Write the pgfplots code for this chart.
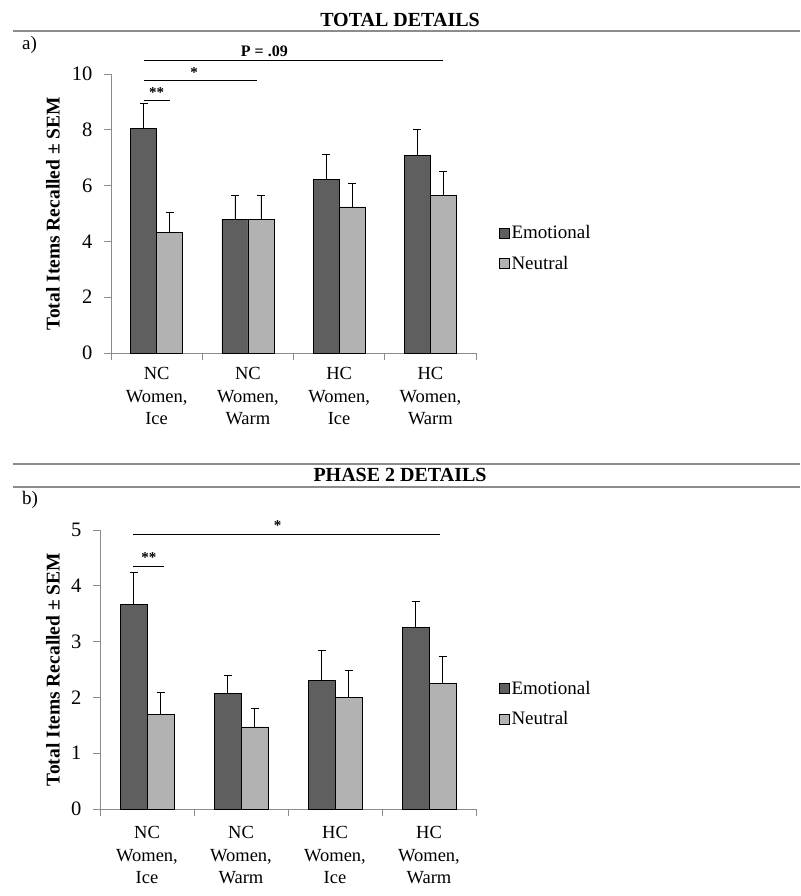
\documentclass[border=0pt]{standalone}
\usepackage{pgfplots}
\pgfplotsset{compat=1.18}
\usepackage{fontspec}
\setmainfont{Liberation Serif}
\definecolor{emo}{HTML}{5F5F5F}
\definecolor{neu}{HTML}{B2B2B2}
\definecolor{axgray}{HTML}{8C8C8C}

\pgfplotstableread{
x emo emoerr neu neuerr
0 8.05 0.89 4.33 0.72
1 4.80 0.86 4.80 0.84
2 6.22 0.89 5.24 0.84
3 7.08 0.95 5.66 0.84
}\tabA
\pgfplotstableread{
x emo emoerr neu neuerr
0 3.67 0.57 1.70 0.39
1 2.07 0.33 1.47 0.33
2 2.31 0.53 2.00 0.49
3 3.25 0.48 2.25 0.48
}\tabB

\pgfplotsset{mystyle/.style={
  scale only axis,
  ybar=0pt,
  clip=false,
  xmin=-0.5, xmax=3.5,
  axis lines*=left,
  axis line style={axgray, line width=0.8pt},
  xtick={0,1,2,3},
  xticklabels={{NC\\Women,\\Ice},{NC\\Women,\\Warm},{HC\\Women,\\Ice},{HC\\Women,\\Warm}},
  major x tick style={draw=none},
  minor xtick={-0.5,0.5,1.5,2.5,3.5},
  minor x tick style={axgray, line width=0.8pt},
  tick align=outside,
  minor tick length=7pt,
  major tick length=7pt,
  ytick style={axgray, line width=0.8pt},
  xticklabel style={align=center, font=\fontsize{18.5}{22.5}\selectfont, yshift=-4pt},
  yticklabel style={font=\fontsize{20.5}{24}\selectfont, xshift=-8pt},
  /pgf/number format/assume math mode=true,
  ylabel={Total Items Recalled ± SEM},
  ylabel style={font=\fontsize{19.5}{22}\selectfont\bfseries, anchor=center},
  legend style={draw=none, fill=none, font=\fontsize{19}{22}\selectfont, row sep=12pt,
    /tikz/every even column/.append style={column sep=5pt}},
  legend cell align=left,
  legend image code/.code={\draw[#1, draw=black, line width=0.3pt] (0pt,-5pt) rectangle (10pt,5pt);},
  error bars/y dir=plus,
  error bars/y explicit,
  error bars/error bar style={black, line width=0.6pt},
  error bars/error mark options={rotate=90, mark size=4pt, black, line width=0.6pt},
}}

\begin{document}
\begin{tikzpicture}
\path[use as bounding box] (0,0) rectangle (800pt,896pt);
% headers
\draw[axgray, line width=1.2pt] (13pt,865pt) -- (800pt,865pt);
\node[anchor=base, font=\fontsize{20}{24}\selectfont\bfseries] at (400pt,869pt) {TOTAL DETAILS};
\node[anchor=base west, font=\fontsize{19}{22}\selectfont, inner sep=0pt] at (22pt,846pt) {a)};
\draw[axgray, line width=1.2pt] (13pt,432pt) -- (800pt,432pt);
\node[anchor=base, font=\fontsize{20}{24}\selectfont\bfseries] at (400pt,414pt) {PHASE 2 DETAILS};
\draw[axgray, line width=1.2pt] (13pt,409pt) -- (800pt,409pt);
\node[anchor=base west, font=\fontsize{19}{22}\selectfont, inner sep=0pt] at (22pt,391pt) {b)};

% panel a
\begin{axis}[mystyle,
  at={(111pt,543pt)}, anchor=south west,
  width=365pt, height=279pt,
  ymin=0, ymax=10, ytick={0,2,4,6,8,10},
  bar width=26pt,
  ylabel style={at={(axis description cs:-0.159,0.5)}},
  legend style={at={(axis description cs:1,0.376)}, anchor=west, xshift=20pt},
]
\addplot[fill=emo, draw=black, line width=0.4pt] table[x=x, y=emo, y error=emoerr] {\tabA};
\addplot[fill=neu, draw=black, line width=0.4pt] table[x=x, y=neu, y error=neuerr] {\tabA};
\legend{Emotional, Neutral}
\draw[black, line width=0.6pt] (axis cs:-0.143,9.07) -- (axis cs:0.143,9.07);
\node[anchor=south, font=\fontsize{15}{17}\selectfont\bfseries, inner sep=1pt] at (axis cs:0.0,9.12) {**};
\draw[black, line width=0.6pt] (axis cs:-0.143,9.78) -- (axis cs:1.10,9.78);
\node[anchor=south, font=\fontsize{15}{17}\selectfont\bfseries, inner sep=1pt] at (axis cs:0.41,9.83) {*};
\draw[black, line width=0.6pt] (axis cs:-0.143,10.48) -- (axis cs:3.143,10.48);
\node[anchor=south, font=\fontsize{16}{18}\selectfont\bfseries, inner sep=2pt] at (axis cs:1.18,10.55) {P = .09};
\end{axis}

% panel b
\begin{axis}[mystyle,
  at={(100pt,87pt)}, anchor=south west,
  width=376pt, height=279pt,
  ymin=0, ymax=5, ytick={0,1,2,3,4,5},
  bar width=27pt,
  xticklabel style={yshift=-3pt},
  ylabel style={at={(axis description cs:-0.125,0.5)}},
  legend style={at={(axis description cs:1,0.378)}, anchor=west, xshift=20pt},
]
\addplot[fill=emo, draw=black, line width=0.4pt] table[x=x, y=emo, y error=emoerr] {\tabB};
\addplot[fill=neu, draw=black, line width=0.4pt] table[x=x, y=neu, y error=neuerr] {\tabB};
\legend{Emotional, Neutral}
\draw[black, line width=0.6pt] (axis cs:-0.149,4.35) -- (axis cs:0.18,4.35);
\node[anchor=south, font=\fontsize{15}{17}\selectfont\bfseries, inner sep=1pt] at (axis cs:0.02,4.40) {**};
\draw[black, line width=0.6pt] (axis cs:-0.149,4.93) -- (axis cs:3.12,4.93);
\node[anchor=south, font=\fontsize{15}{17}\selectfont\bfseries, inner sep=1pt] at (axis cs:1.39,4.97) {*};
\end{axis}
\end{tikzpicture}
\end{document}
